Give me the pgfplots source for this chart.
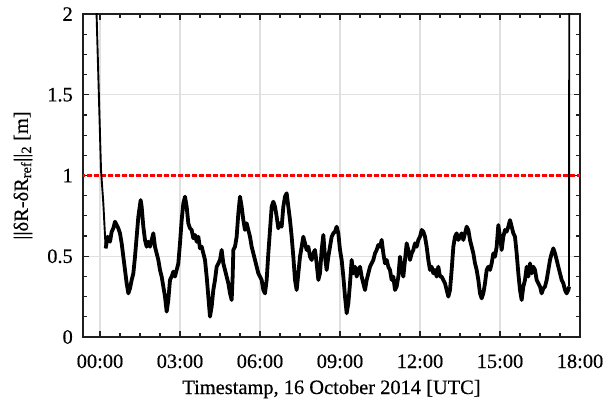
\documentclass[border=0pt]{standalone}
\usepackage{fontspec}
\setmainfont{Liberation Serif}[FakeBold=0.45]
\usepackage{pgfplots}
\pgfplotsset{compat=1.18}

\definecolor{gridgray}{gray}{0.88}
\definecolor{axisgray}{gray}{0.12}

\begin{document}
\begin{tikzpicture}
\path[use as bounding box] (-83bp,-65bp) rectangle (521bp,337bp);
\begin{axis}[
  scale only axis,
  width=497bp, height=323bp,
  xmin=-0.6375, xmax=18,
  ymin=0, ymax=2,
  xtick={0,3,...,18},
  xticklabels={00:00,03:00,06:00,09:00,12:00,15:00,18:00},
  ytick={0,0.5,1,1.5,2},
  minor x tick num=3,
  minor y tick num=3,
  tick align=inside,
  major tick length=6bp,
  minor tick length=4bp,
  every tick/.style={axisgray, line width=1.2bp},
  axis line style={axisgray, line width=1.4bp},
  grid=major,
  major grid style={gridgray, line width=1.2bp},
  /pgf/number format/assume math mode=true,
  tick label style={font=\fontsize{20.5}{24}\selectfont},
  xticklabel style={anchor=base, yshift=-31bp},
  yticklabel style={anchor=east, inner sep=0pt, xshift=-10bp},
  label style={font=\fontsize{20.5}{24}\selectfont},
  xlabel={Timestamp, 16 October 2014 [UTC]},
  xlabel style={at={(axis description cs:0.5,0)}, anchor=base, yshift=-57bp},
  ylabel={||δR-δR\textsubscript{ref}||\textsubscript{2} [m]},
  ylabel style={at={(axis description cs:-0.1207,0.5)}, anchor=center, rotate=0},
  clip=true,
]
% threshold
\addplot[red, line width=2.2bp, dash pattern=on 4.5bp off 2.5bp] coordinates {(-1,1) (19,1)};

% initial convergence (hours after 00:00 UTC, metres)
\addplot[black, line width=1.9bp] coordinates {
(-0.18,2.3) (0.0375,1.034) (0.125,0.828) (0.2125,0.549)
};

% steady state
\addplot[black, line width=3.8bp, line join=round] coordinates {
(0.2125,0.549) (0.2875,0.621) (0.375,0.590) (0.4375,0.652) (0.5,0.673) (0.5625,0.714)
(0.625,0.693) (0.6875,0.673) (0.75,0.642) (0.8125,0.580) (0.875,0.497) (0.9375,0.415)
(1.0,0.332) (1.0625,0.270) (1.125,0.301) (1.1875,0.353) (1.25,0.394) (1.3125,0.497)
(1.375,0.621) (1.4375,0.745) (1.525,0.848) (1.5625,0.807) (1.625,0.683) (1.6875,0.601)
(1.75,0.559) (1.8125,0.590) (1.875,0.559) (1.9375,0.601) (2.0,0.642) (2.0625,0.559)
(2.125,0.518) (2.1875,0.477) (2.25,0.415) (2.3125,0.374) (2.375,0.312) (2.4375,0.250)
(2.5,0.157) (2.5625,0.229) (2.625,0.353) (2.6875,0.374) (2.75,0.405) (2.8125,0.374)
(2.875,0.415) (2.9375,0.456) (3.0,0.580) (3.0625,0.724) (3.125,0.828) (3.1875,0.869)
(3.25,0.807) (3.3125,0.704) (3.375,0.673) (3.4375,0.663) (3.5,0.611) (3.5625,0.632)
(3.625,0.590) (3.6875,0.621) (3.75,0.549) (3.8125,0.559) (3.875,0.518) (3.9375,0.477)
(4.0,0.374) (4.0625,0.250) (4.125,0.126) (4.1875,0.188) (4.25,0.291) (4.3125,0.353)
(4.375,0.435) (4.4375,0.456) (4.5,0.477) (4.5625,0.539) (4.625,0.456) (4.6875,0.415)
(4.75,0.374) (4.8125,0.332) (4.875,0.270) (4.9375,0.229) (4.975,0.374) (5.0,0.539)
(5.0625,0.559) (5.125,0.621) (5.1875,0.766) (5.25,0.869) (5.3125,0.807) (5.375,0.724)
(5.4375,0.663) (5.5,0.704) (5.5625,0.663) (5.625,0.621) (5.6875,0.559) (5.75,0.518)
(5.8125,0.477) (5.875,0.435) (5.9375,0.394) (6.0,0.374) (6.0625,0.353) (6.125,0.291)
(6.1875,0.270) (6.25,0.353) (6.3125,0.518) (6.375,0.663) (6.4375,0.807) (6.5,0.838)
(6.5625,0.807) (6.625,0.745) (6.6875,0.673) (6.75,0.704) (6.8125,0.683) (6.875,0.807)
(6.9375,0.869) (7.0,0.890) (7.0625,0.807) (7.125,0.724) (7.1875,0.621) (7.25,0.497)
(7.3125,0.353) (7.375,0.291) (7.4375,0.394) (7.5,0.497) (7.5625,0.559) (7.625,0.621)
(7.6875,0.580) (7.75,0.539) (7.8125,0.559) (7.875,0.497) (7.9375,0.477) (8.0,0.518)
(8.0625,0.539) (8.125,0.456) (8.1875,0.353) (8.25,0.394) (8.3125,0.539) (8.375,0.632)
(8.4375,0.497) (8.5,0.415) (8.5625,0.497) (8.625,0.559) (8.6875,0.621) (8.75,0.642)
(8.8125,0.652) (8.875,0.683) (8.9375,0.642) (9.0,0.539) (9.0625,0.477) (9.125,0.374)
(9.1875,0.250) (9.25,0.147) (9.3125,0.208) (9.375,0.332) (9.4375,0.477) (9.5,0.394)
(9.5625,0.435) (9.625,0.374) (9.6875,0.415) (9.75,0.435) (9.8125,0.374) (9.875,0.332)
(9.9375,0.291) (10.0,0.353) (10.0625,0.394) (10.125,0.435) (10.1875,0.456) (10.25,0.477)
(10.3125,0.518) (10.375,0.539) (10.4375,0.570) (10.5,0.559) (10.5625,0.601) (10.625,0.518)
(10.6875,0.456) (10.75,0.477) (10.8125,0.435) (10.875,0.415) (10.9375,0.353) (11.0,0.374)
(11.0625,0.291) (11.125,0.312) (11.1875,0.374) (11.25,0.497) (11.3125,0.415) (11.375,0.374)
(11.4375,0.477) (11.5,0.580) (11.5625,0.539) (11.625,0.477) (11.6875,0.518) (11.75,0.539)
(11.8125,0.580) (11.875,0.559) (11.9375,0.601) (12.0,0.621) (12.0625,0.663) (12.125,0.652)
(12.1875,0.621) (12.25,0.559) (12.3125,0.477) (12.375,0.415) (12.4375,0.435) (12.5,0.394)
(12.5625,0.415) (12.625,0.374) (12.6875,0.435) (12.75,0.374) (12.8125,0.374) (12.875,0.353)
(12.9375,0.332) (13.0,0.291) (13.0625,0.250) (13.125,0.291) (13.1875,0.415) (13.25,0.559)
(13.3125,0.621) (13.375,0.642) (13.4375,0.601) (13.5,0.621) (13.5625,0.642) (13.625,0.601)
(13.6875,0.642) (13.75,0.683) (13.8125,0.663) (13.875,0.601) (13.9375,0.559) (14.0,0.518)
(14.0625,0.456) (14.125,0.415) (14.1875,0.353) (14.25,0.270) (14.3125,0.239) (14.375,0.270)
(14.4375,0.332) (14.5,0.415) (14.5625,0.435) (14.625,0.415) (14.6875,0.456) (14.75,0.518)
(14.8125,0.497) (14.875,0.559) (14.9375,0.693) (15.0,0.621) (15.0625,0.539) (15.125,0.621)
(15.1875,0.663) (15.25,0.652) (15.3125,0.683) (15.375,0.724) (15.4375,0.683) (15.5,0.642)
(15.5625,0.621) (15.625,0.518) (15.6875,0.394) (15.75,0.291) (15.8125,0.229) (15.875,0.312)
(15.9375,0.353) (16.0,0.435) (16.0625,0.374) (16.125,0.456) (16.1875,0.394) (16.25,0.435)
(16.3125,0.415) (16.375,0.353) (16.4375,0.332) (16.5,0.312) (16.5625,0.270) (16.625,0.301)
(16.6875,0.312) (16.75,0.353) (16.8125,0.415) (16.875,0.477) (16.9375,0.518) (17.0,0.549)
(17.0625,0.518) (17.125,0.477) (17.1875,0.435) (17.25,0.394) (17.3125,0.353) (17.375,0.332)
(17.4375,0.291) (17.5,0.270) (17.5625,0.291) (17.5875,0.312)
};

% reset at the end of the session
\addplot[black, line width=1.9bp] coordinates {(17.5875,0.312) (17.6,2.5)};
\end{axis}
\end{tikzpicture}
\end{document}
